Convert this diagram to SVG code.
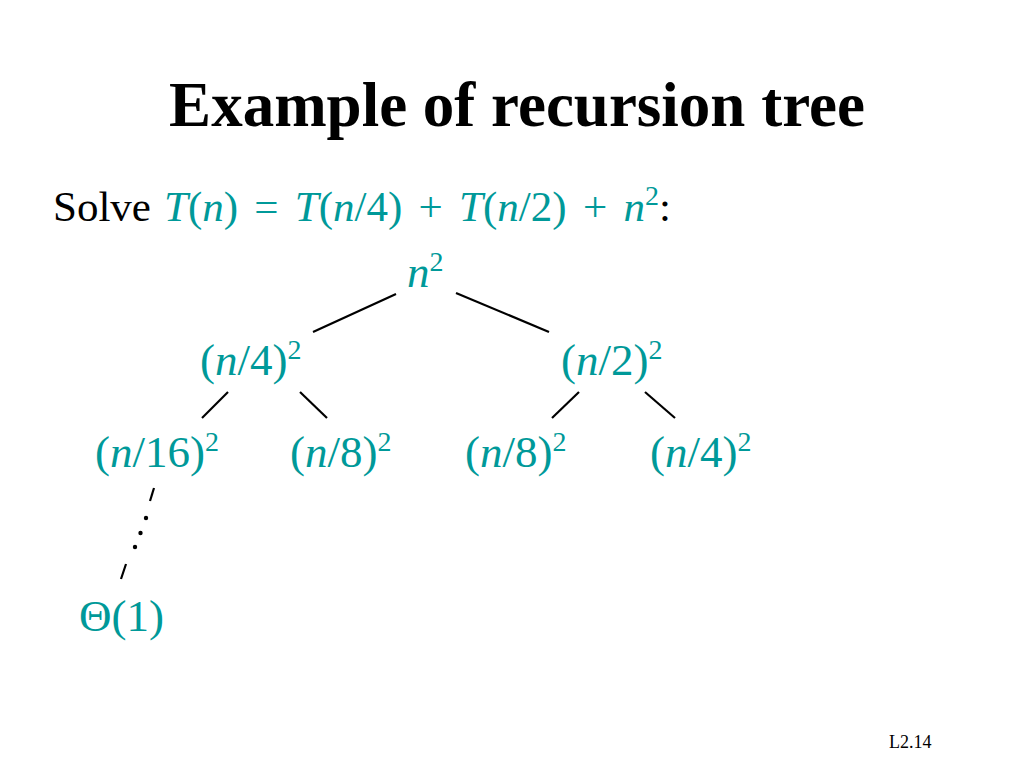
<svg xmlns="http://www.w3.org/2000/svg" width="1024" height="768" viewBox="0 0 1024 768">
<style>
text{font-family:"Liberation Serif","Times New Roman",serif;}
.title{font-size:63px;font-weight:bold;fill:#000;}
.eq{font-size:43px;}
.ws{word-spacing:5.5px;}
.node{font-size:45px;fill:#009999;}
.teal{fill:#009999;}
.it{font-style:italic;}
.sup{font-size:28px;}
.edge{stroke:#000;stroke-width:2.2;fill:none;stroke-linecap:butt;}
.num{font-size:18px;fill:#000;}
</style>
<rect width="1024" height="768" fill="#fff"/>
<text class="title" x="517" y="126" text-anchor="middle" font-family="Liberation Serif, serif">Example of recursion tree</text>
<text class="eq" x="53" y="221" font-family="Liberation Serif, serif"><tspan fill="#000">Solve </tspan><tspan class="teal it" x="164">T</tspan><tspan class="teal">(</tspan><tspan class="teal it">n</tspan><tspan class="teal ws">) = </tspan><tspan class="teal it">T</tspan><tspan class="teal">(</tspan><tspan class="teal it">n</tspan><tspan class="teal ws">/4) + </tspan><tspan class="teal it">T</tspan><tspan class="teal">(</tspan><tspan class="teal it">n</tspan><tspan class="teal ws">/2) + </tspan><tspan class="teal it">n</tspan><tspan class="teal sup" dy="-16">2</tspan><tspan fill="#000" dy="16">:</tspan></text>

<g id="connectors">
<line class="edge" x1="396" y1="294" x2="313" y2="332"/>
<line class="edge" x1="456" y1="293" x2="549" y2="332"/>
<line class="edge" x1="228" y1="392" x2="202" y2="418"/>
<line class="edge" x1="300" y1="392" x2="327" y2="418"/>
<line class="edge" x1="579" y1="392" x2="552" y2="418"/>
<line class="edge" x1="645" y1="392" x2="675" y2="418"/>
<line class="edge" x1="154" y1="488" x2="150" y2="501"/>
<line class="edge" x1="126" y1="564" x2="121" y2="579"/>
<circle cx="146" cy="518" r="2.2" fill="#000"/>
<circle cx="140.5" cy="533" r="2.2" fill="#000"/>
<circle cx="135" cy="547" r="2.2" fill="#000"/>
</g>

<g id="n_root"><text class="node" x="407" y="287" font-family="Liberation Serif, serif"><tspan class="it">n</tspan><tspan class="sup" dy="-16">2</tspan></text></g>
<g id="n_l"><text class="node" x="200" y="375" font-family="Liberation Serif, serif">(<tspan class="it">n</tspan>/4)<tspan class="sup" dy="-16">2</tspan></text></g>
<g id="n_r"><text class="node" x="561" y="375" font-family="Liberation Serif, serif">(<tspan class="it">n</tspan>/2)<tspan class="sup" dy="-16">2</tspan></text></g>
<g id="n_ll"><text class="node" x="95" y="467" font-family="Liberation Serif, serif">(<tspan class="it">n</tspan>/16)<tspan class="sup" dy="-16">2</tspan></text></g>
<g id="n_lr"><text class="node" x="290" y="467" font-family="Liberation Serif, serif">(<tspan class="it">n</tspan>/8)<tspan class="sup" dy="-16">2</tspan></text></g>
<g id="n_rl"><text class="node" x="465" y="467" font-family="Liberation Serif, serif">(<tspan class="it">n</tspan>/8)<tspan class="sup" dy="-16">2</tspan></text></g>
<g id="n_rr"><text class="node" x="650" y="467" font-family="Liberation Serif, serif">(<tspan class="it">n</tspan>/4)<tspan class="sup" dy="-16">2</tspan></text></g>
<g id="n_leaf"><text class="node" x="79" y="631" font-family="Liberation Serif, serif">Θ(1)</text></g>

<text class="num" x="889" y="748" font-family="Liberation Serif, serif">L2.14</text>
</svg>
